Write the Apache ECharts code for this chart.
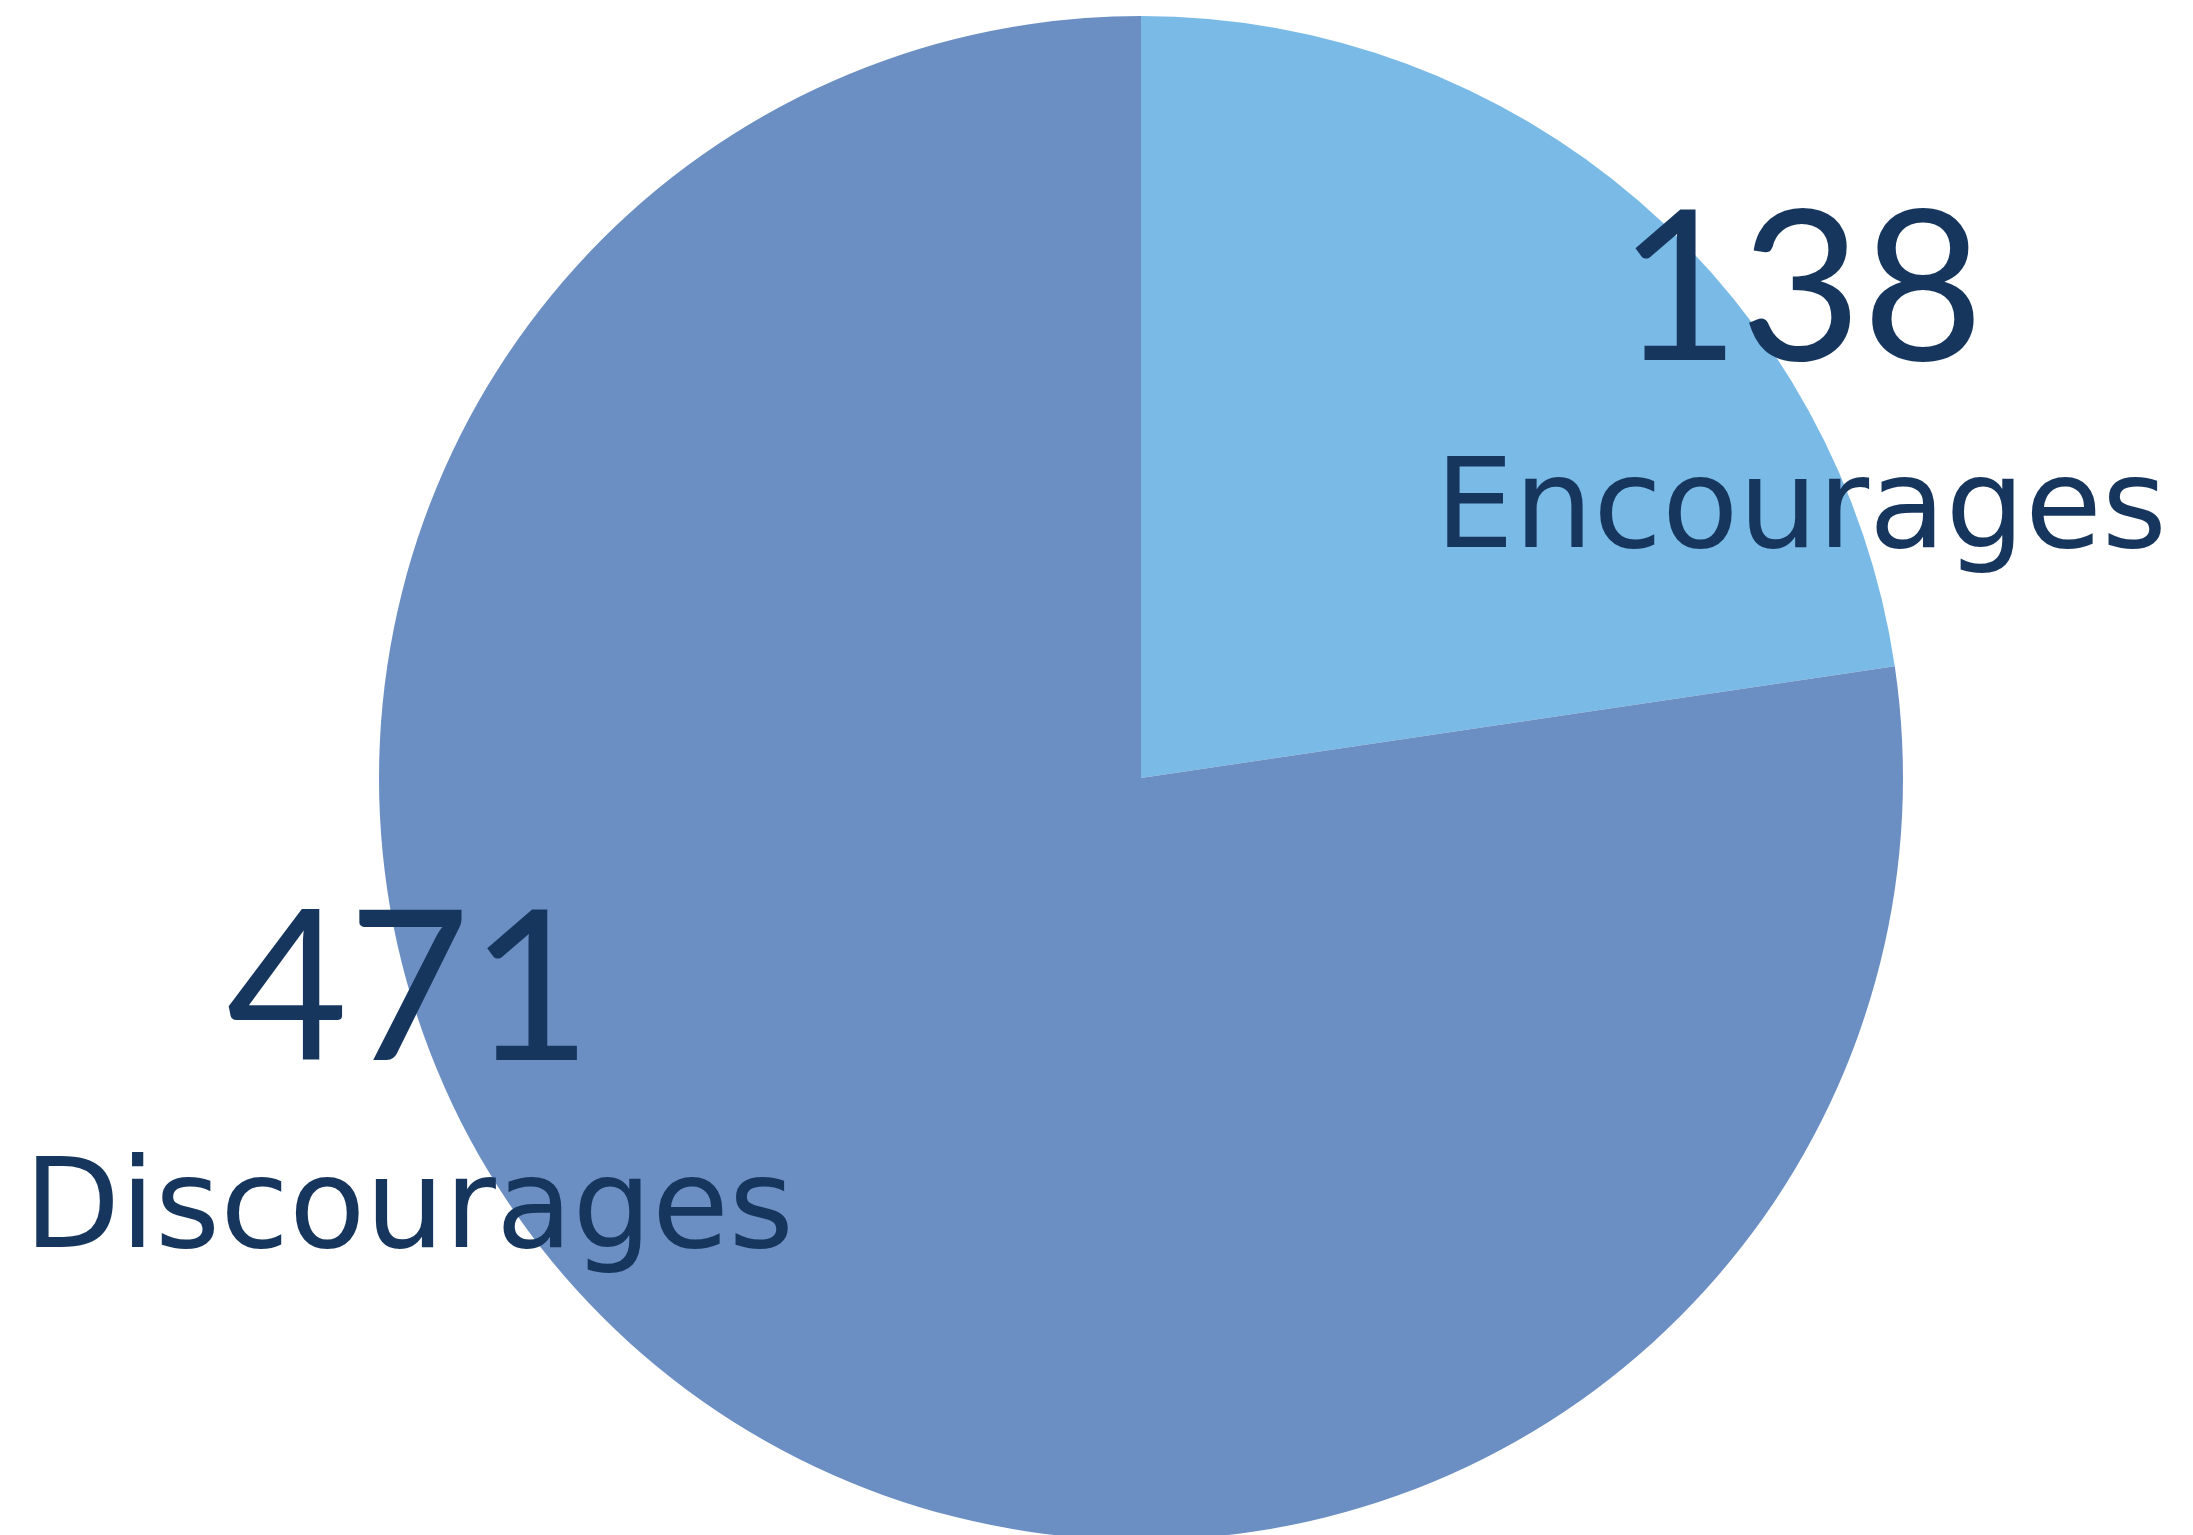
<!DOCTYPE html>
<html>
<head>
<meta charset="utf-8">
<script src="https://cdn.jsdelivr.net/npm/echarts@6/dist/echarts.min.js"></script>
<style>
html,body{margin:0;padding:0;background:#fff;}
#c{width:2193px;height:1535px;}
</style>
</head>
<body>
<div id="c"></div>
<script>
const categories = ['Encourages', 'Discourages'];
const values = [138, 471];
const colors = ['#7ABAE6', '#6B8FC3'];
const textColor = '#16365E';
const labelPos = [[1801, 172], [409, 872]];

const chart = echarts.init(document.getElementById('c'));
chart.setOption({
  animation: false,
  backgroundColor: '#ffffff',
  series: [{
    type: 'pie',
    center: [1141, 778],
    radius: [0, 762],
    startAngle: 90,
    clockwise: true,
    silent: true,
    data: categories.map((n, i) => ({ name: n, value: values[i], itemStyle: { color: colors[i] } })),
    label: {
      show: true,
      overflow: 'none',
      width: 1200,
      formatter: p => '{a|' + p.value + '}\n{b|' + p.name + '}',
      align: 'center',
      rich: {
        a: { fontFamily: 'Lato', fontWeight: 'normal', fontSize: 210, lineHeight: 240, color: textColor, align: 'center' },
        b: { fontFamily: 'DejaVu Sans', fontWeight: 'normal', fontSize: 125, lineHeight: 206, color: textColor, align: 'center' }
      }
    },
    labelLine: { show: false },
    labelLayout: function (p) {
      const pos = labelPos[p.dataIndex];
      return { x: pos[0], y: pos[1], align: 'center', verticalAlign: 'top' };
    }
  }]
});
</script>
</body>
</html>
